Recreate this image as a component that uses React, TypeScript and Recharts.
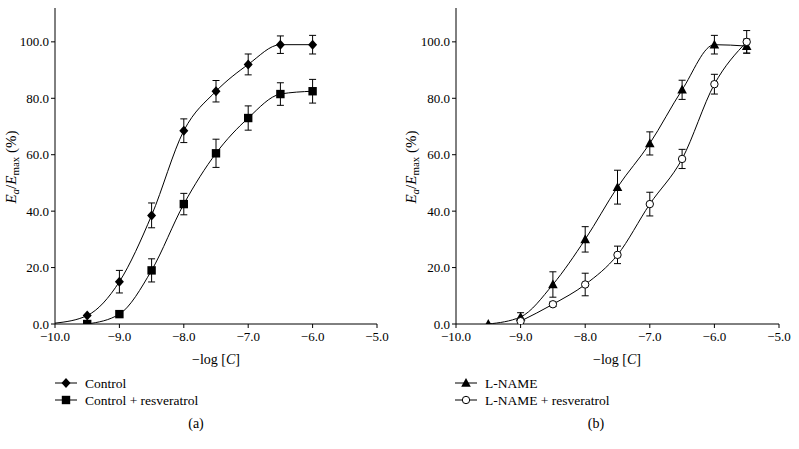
import { LineChart, Line, XAxis, YAxis, ErrorBar } from "recharts";

const xTicks = [-10, -9, -8, -7, -6, -5];
const yTicks = [0, 20, 40, 60, 80, 100];

// panel (a) — first point of control is only where the fitted curve starts (err null = no marker)
const controlLogC = [-10, -9.5, -9, -8.5, -8, -7.5, -7, -6.5, -6];
const controlE = [0.3, 3, 15, 38.5, 68.5, 82.5, 92, 99, 99];
const controlErr = [null, 0, 4, 4.4, 4.2, 3.8, 3.7, 3.1, 3.3];

const ctrlResLogC = [-9.5, -9, -8.5, -8, -7.5, -7, -6.5, -6];
const ctrlResE = [0, 3.5, 19, 42.5, 60.5, 73, 81.5, 82.5];
const ctrlResErr = [0, 0, 4.1, 3.8, 5, 4.3, 4, 4.2];

// panel (b)
const lnameLogC = [-9.5, -9, -8.5, -8, -7.5, -7, -6.5, -6, -5.5];
const lnameE = [0, 2.5, 14, 30, 48.5, 64, 83, 99, 98.5];
const lnameErr = [0, 1.5, 4.5, 4.5, 6, 4.1, 3.4, 3.3, 2.5];

const lnameResLogC = [-9, -8.5, -8, -7.5, -7, -6.5, -6, -5.5];
const lnameResE = [1, 7, 14, 24.5, 42.5, 58.5, 85, 100];
const lnameResErr = [0, 0.8, 4, 3.1, 4.2, 3.4, 3.5, 4];

type Row = { x: number; y: number; err: number | null };
const toRows = (xs: number[], ys: number[], es: (number | null)[]): Row[] =>
  xs.map((x, i) => ({ x, y: ys[i], err: es[i] }));

const serif = { fontFamily: "Liberation Serif" };
const fmt = (v: number) => (v < 0 ? "\u2212" + Math.abs(v).toFixed(1) : v.toFixed(1));

const Diamond = ({ cx, cy }: { cx: number; cy: number }) => (
  <polygon points={`${cx},${cy - 5} ${cx + 4.5},${cy} ${cx},${cy + 5} ${cx - 4.5},${cy}`} fill="#000" />
);
const Square = ({ cx, cy }: { cx: number; cy: number }) => (
  <rect x={cx - 4.2} y={cy - 4.2} width={8.4} height={8.4} fill="#000" />
);
const Triangle = ({ cx, cy }: { cx: number; cy: number }) => (
  <polygon points={`${cx},${cy - 5} ${cx + 4.8},${cy + 3.8} ${cx - 4.8},${cy + 3.8}`} fill="#000" />
);
const Circle = ({ cx, cy }: { cx: number; cy: number }) => (
  <circle cx={cx} cy={cy} r={3.7} fill="#fff" stroke="#000" strokeWidth={1} />
);

const dotWith = (Shape: React.FC<{ cx: number; cy: number }>) => (p: any) => {
  if (p.payload == null || p.payload.err == null) return <g key={p.key ?? p.index} />;
  return <Shape key={p.key ?? p.index} cx={p.cx} cy={p.cy} />;
};

const legendIcon = (Shape: React.FC<{ cx: number; cy: number }>, y: number, label: string) => (
  <g>
    <line x1={55} x2={77} y1={y} y2={y} stroke="#000" strokeWidth={1} />
    <Shape cx={66} cy={y} />
    <text x={85} y={y + 4.5} fontSize={13.5} fill="#000" style={serif}>
      {label}
    </text>
  </g>
);

interface PanelProps {
  left: number;
  width: number;
  yAxisWidth: number;
  right: number;
  series: { rows: Row[]; shape: React.FC<{ cx: number; cy: number }>; name: string }[];
  caption: string;
  captionX: number;
  xLabelX: number;
}

const Panel = ({ left, width, yAxisWidth, right, series, caption, captionX, xLabelX }: PanelProps) => (
  <div style={{ position: "absolute", left, top: 0, ...serif }}>
    <LineChart width={width} height={449} margin={{ top: 8, right, left: 0, bottom: 95 }} style={serif}>
      <XAxis
        dataKey="x"
        type="number"
        domain={[-10, -5]}
        ticks={xTicks}
        tickFormatter={fmt}
        allowDataOverflow
        height={30}
        tickSize={4}
        tickMargin={4}
        stroke="#000"
        tick={{ fontSize: 13, fill: "#000", style: serif }}
      />
      <XAxis
        xAxisId="top"
        orientation="top"
        type="number"
        domain={[-10, -5]}
        tick={false}
        tickLine={false}
        height={0}
        stroke="#000"
      />
      <YAxis
        type="number"
        domain={[0, 112]}
        ticks={yTicks}
        tickFormatter={fmt}
        allowDataOverflow
        width={yAxisWidth}
        tickSize={4}
        stroke="#000"
        tick={{ fontSize: 13, fill: "#000", style: serif }}
      />
      <YAxis
        yAxisId="r"
        orientation="right"
        mirror
        type="number"
        domain={[0, 112]}
        ticks={yTicks}
        tick={false}
        tickSize={5}
        width={0}
        stroke="#000"
      />
      {series.map((s) => (
        <Line
          key={s.name}
          data={s.rows}
          dataKey="y"
          name={s.name}
          type="monotone"
          stroke="#000"
          strokeWidth={1}
          dot={dotWith(s.shape)}
          activeDot={false}
          isAnimationActive={false}
        >
          <ErrorBar dataKey="err" width={3.5} stroke="#000" strokeWidth={1} direction="y" />
        </Line>
      ))}
      <text transform={`translate(16,167) rotate(-90)`} textAnchor="middle" fontSize={15} fill="#000" style={serif}>
        <tspan fontStyle="italic">E</tspan>
        <tspan fontStyle="italic" fontSize={11} dy={3}>a</tspan>
        <tspan dy={-3}>/</tspan>
        <tspan fontStyle="italic">E</tspan>
        <tspan fontSize={11} dy={3}>max</tspan>
        <tspan dy={-3}> (%)</tspan>
      </text>
      <text x={xLabelX} y={364} textAnchor="middle" fontSize={14} fill="#000" style={serif}>
        {"\u2212log ["}
        <tspan fontStyle="italic">C</tspan>
        {"]"}
      </text>
      {legendIcon(series[0].shape, 383, series[0].name)}
      {legendIcon(series[1].shape, 400, series[1].name)}
      <text x={captionX} y={428} textAnchor="middle" fontSize={14} fill="#000" style={serif}>
        {caption}
      </text>
    </LineChart>
  </div>
);

export default function App() {
  return (
    <div style={{ position: "absolute", left: 0, top: 0, width: 799, height: 449, background: "#fff", ...serif }}>
      <Panel
        left={0}
        width={400}
        yAxisWidth={55}
        right={23}
        caption="(a)"
        captionX={196}
        xLabelX={216}
        series={[
          { rows: toRows(controlLogC, controlE, controlErr), shape: Diamond, name: "Control" },
          { rows: toRows(ctrlResLogC, ctrlResE, ctrlResErr), shape: Square, name: "Control + resveratrol" },
        ]}
      />
      <Panel
        left={400}
        width={399}
        yAxisWidth={56}
        right={20}
        caption="(b)"
        captionX={196}
        xLabelX={217}
        series={[
          { rows: toRows(lnameLogC, lnameE, lnameErr), shape: Triangle, name: "L-NAME" },
          { rows: toRows(lnameResLogC, lnameResE, lnameResErr), shape: Circle, name: "L-NAME + resveratrol" },
        ]}
      />
    </div>
  );
}
